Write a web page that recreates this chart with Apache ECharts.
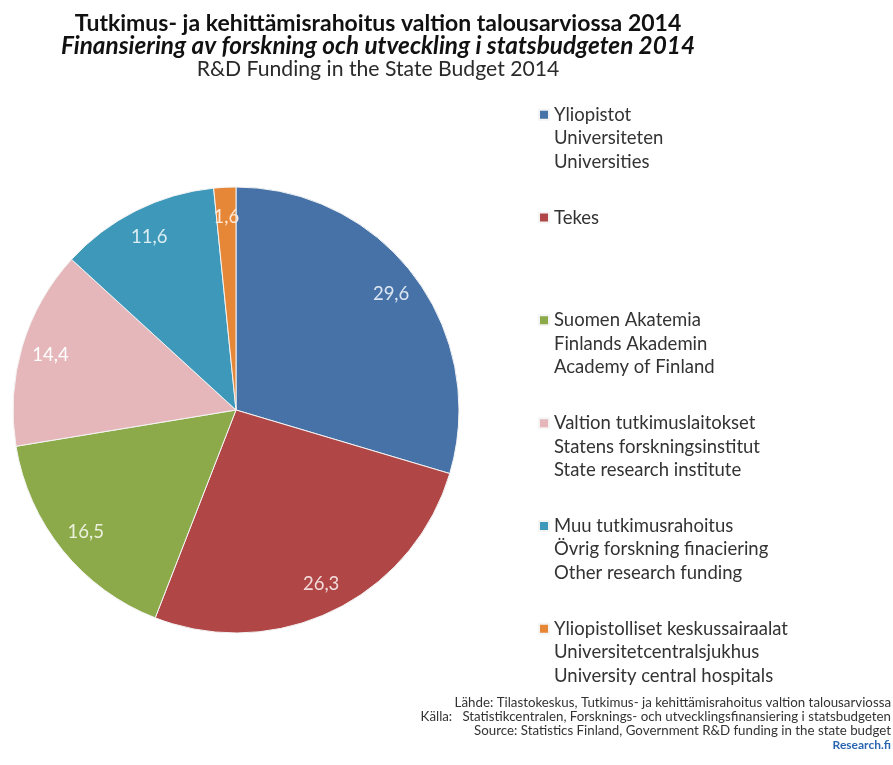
<!DOCTYPE html>
<html>
<head>
<meta charset="utf-8">
<script src="https://cdn.jsdelivr.net/npm/echarts@6/dist/echarts.min.js"></script>
<style>
  html, body { margin: 0; padding: 0; background: #fff; }
  #chart { width: 893px; height: 765px; }
</style>
</head>
<body>
<div id="chart"></div>
<script>
var categories = [
  'Yliopistot\nUniversiteten\nUniversities',
  'Tekes',
  'Suomen Akatemia\nFinlands Akademin\nAcademy of Finland',
  'Valtion tutkimuslaitokset\nStatens forskningsinstitut\nState research institute',
  'Muu tutkimusrahoitus\nÖvrig forskning finaciering\nOther research funding',
  'Yliopistolliset keskussairaalat\nUniversitetcentralsjukhus\nUniversity central hospitals'
];
var values = [29.6, 26.3, 16.5, 14.4, 11.6, 1.6];
var colors = ['#4672a8', '#b04646', '#8daa4a', '#e6b7ba', '#3e98b9', '#e68637'];
var labelColors = ['#dce6f2', '#f2dcdb', '#ebf1de', '#ffffff', '#dbeef4', '#fde9d9'];

var sourceLines = [
  'Lähde: Tilastokeskus, Tutkimus- ja kehittämisrahoitus valtion talousarviossa',
  'Källa:   Statistikcentralen, Forsknings- och utvecklingsfinansiering i statsbudgeten',
  'Source: Statistics Finland, Government R&D funding in the state budget'
];

var LH = 23.5; // legend line height

var chart = echarts.init(document.getElementById('chart'));

var pieData = categories.map(function (name, i) {
  return { name: name, value: values[i], itemStyle: { color: colors[i] } };
});
var labelData = categories.map(function (name, i) {
  return { name: name, value: values[i], label: { color: labelColors[i] } };
});

var option = {
  animation: false,
  backgroundColor: '#fff',
  title: [
    {
      left: 373,
      top: 7,
      textAlign: 'center',
      text: '{a|Tutkimus- ja kehittämisrahoitus valtion talousarviossa 2014}\n' +
        '{b|Finansiering av forskning och utveckling i statsbudgeten 2014}\n' +
        '{c|R&D Funding in the State Budget 2014}',
      textStyle: {
        rich: {
          a: { fontFamily: 'Lato', fontSize: 23, fontWeight: 'bold', color: '#111', lineHeight: 23 },
          b: { fontFamily: 'Lato', fontSize: 24.3, fontWeight: 'bold', fontStyle: 'italic', color: '#111', lineHeight: 23 },
          c: { fontFamily: 'Lato', fontSize: 21.2, fontWeight: 'normal', color: '#2a2a2a', lineHeight: 23 }
        }
      }
    },
    {
      left: 886,
      top: 691,
      textAlign: 'right',
      text: sourceLines.join('\n'),
      textStyle: { fontFamily: 'Lato', fontSize: 13.3, color: '#333', lineHeight: 14, fontWeight: 'normal' },
      subtext: 'Research.fi',
      subtextStyle: { fontFamily: 'Lato', fontSize: 12, color: '#2a66b0', fontWeight: 'bold', lineHeight: 14, align: 'right' },
      itemGap: 0
    }
  ],
  legend: {
    orient: 'vertical',
    left: 533,
    top: 98,
    itemGap: 32.3,
    itemWidth: 10,
    itemHeight: 2 * LH + 10,
    icon: 'path://M0,0h10v10h-10zM0,' + (2 * LH + 10),
    selectedMode: false,
    data: categories,
    // every entry takes three lines, so the square sits by the first one
    formatter: function (name) {
      var lines = name.split('\n').length;
      return lines < 3 ? name + new Array(3 - lines + 1).join('\n') : name;
    },
    textStyle: {
      fontFamily: 'Lato',
      fontSize: 18.5,
      color: '#333',
      lineHeight: LH
    }
  },
  series: [
    {
      type: 'pie',
      center: [236, 410],
      radius: 223,
      startAngle: 90,
      clockwise: true,
      silent: true,
      label: { show: false },
      labelLine: { show: false },
      itemStyle: { borderColor: '#f4f4f4', borderWidth: 1 },
      data: pieData
    },
    {
      type: 'pie',
      center: [236, 410],
      radius: [158, 223],
      startAngle: 90,
      clockwise: true,
      silent: true,
      legendHoverLink: false,
      itemStyle: { color: 'transparent' },
      label: {
        show: true,
        position: 'inside',
        fontFamily: 'Lato',
        fontSize: 18.5,
        formatter: function (p) { return String(p.value).replace('.', ','); }
      },
      labelLine: { show: false },
      data: labelData
    }
  ]
};

chart.setOption(option);
</script>
</body>
</html>
